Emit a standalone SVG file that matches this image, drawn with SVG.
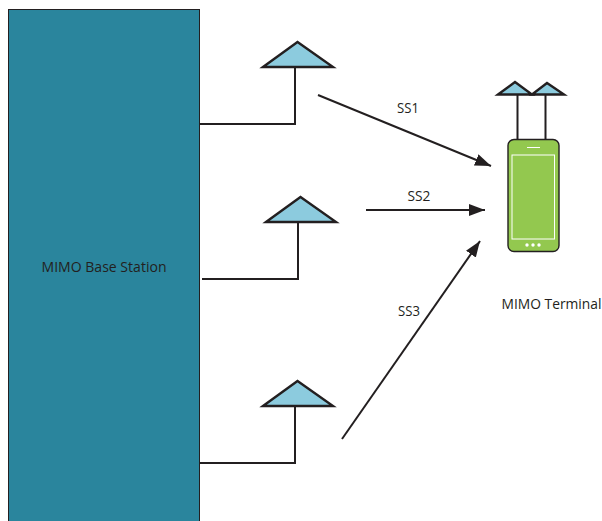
<svg xmlns="http://www.w3.org/2000/svg" width="602" height="521" viewBox="0 0 602 521">
<defs>
<style>
text{font-family:"Open Sans","Noto Sans","Liberation Sans",sans-serif;font-size:15px;fill:#231f20}
text.s{font-size:14px}
.ant{fill:#8ccbde;stroke:#231f20;stroke-width:2.4;stroke-linejoin:miter}
.w{fill:none;stroke:#231f20;stroke-width:2}
.a{fill:none;stroke:#231f20;stroke-width:2;marker-end:url(#ah)}
</style>
<marker id="ah" markerUnits="userSpaceOnUse" markerWidth="18" markerHeight="14" refX="16" refY="6" orient="auto"><path d="M0 0L16 6L0 12Z" fill="#231f20"/></marker>
</defs>
<rect width="602" height="521" fill="#fff"/>
<g id="base-station"><rect x="8.500" y="9.500" width="191" height="520" fill="#2a859d" stroke="#231f20"/><text x="104" y="272" text-anchor="middle" textLength="125" lengthAdjust="spacingAndGlyphs">MIMO Base Station</text></g>
<g id="antenna1"><path class="w" d="M199 124H295V67"/><path class="ant" d="M263 67L297.500 42L333 67Z"/></g>
<g id="antenna2"><path class="w" d="M202 279H298V222"/><path class="ant" d="M266 222L300.500 197L336 222Z"/></g>
<g id="antenna3"><path class="w" d="M199 463H295V406"/><path class="ant" d="M263 406L297.500 381L333 406Z"/></g>
<g id="terminal">
<path class="w" d="M517.500 140V94M545.500 140V94"/>
<path class="ant" d="M498 94.500L515 82L532 94.500Z"/><path class="ant" d="M532 94.500L547 83L564 94.500Z"/>
<rect x="508" y="139.500" width="51" height="112" rx="6" fill="#93c84f" stroke="#231f20" stroke-width="1.400"/>
<path d="M527 147.500H540" stroke="#fff" fill="none"/>
<rect x="512" y="155" width="42.500" height="84" fill="none" stroke="#fff"/>
<circle cx="527" cy="245" r="1.700" fill="#fff"/><circle cx="533" cy="245" r="1.700" fill="#fff"/><circle cx="539" cy="245" r="1.700" fill="#fff"/>
<text class="s" x="551.500" y="309" text-anchor="middle" textLength="100" lengthAdjust="spacingAndGlyphs">MIMO Terminal</text>
</g>
<g id="connectors">
<path class="a" d="M318 95L491 166"/>
<path class="a" d="M366 210H485"/>
<path class="a" d="M342 439L480 241"/>
</g>
<g id="labels">
<text x="408" y="113" text-anchor="middle" textLength="22" lengthAdjust="spacingAndGlyphs">SS1</text>
<text x="419" y="201" text-anchor="middle" textLength="23" lengthAdjust="spacingAndGlyphs">SS2</text>
<text x="409" y="316" text-anchor="middle" textLength="22" lengthAdjust="spacingAndGlyphs">SS3</text>
</g>
</svg>
